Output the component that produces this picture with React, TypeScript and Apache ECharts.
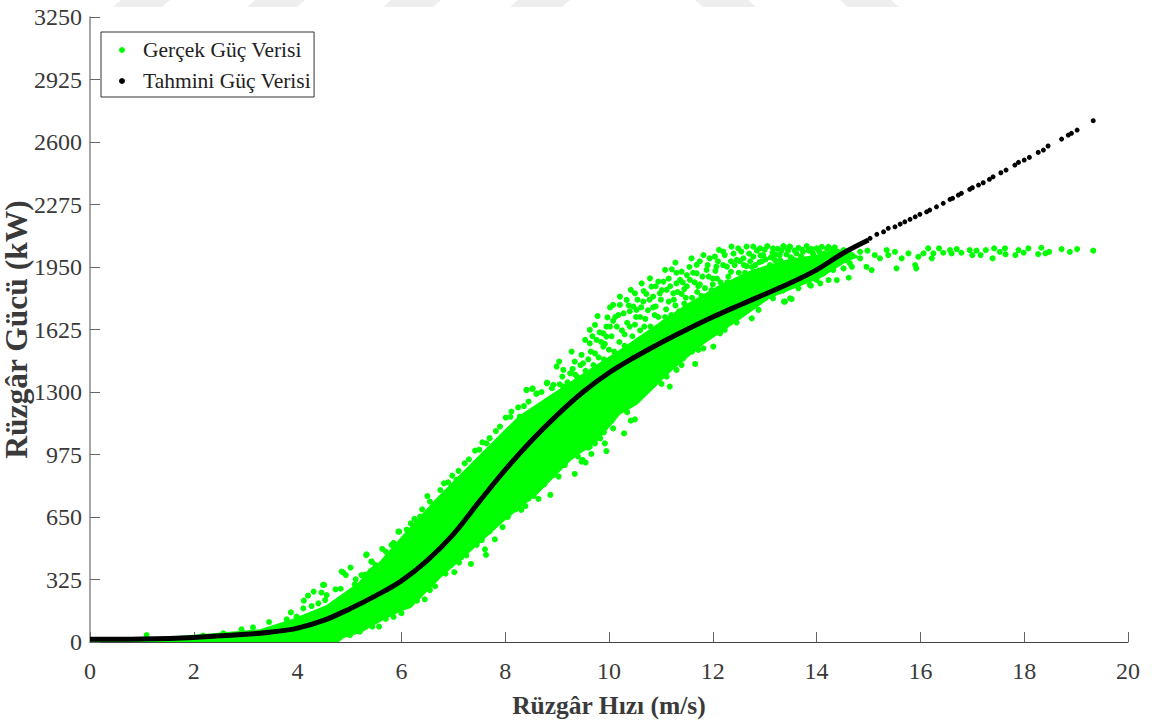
import React, { useEffect, useRef } from "react";
import * as echarts from "echarts";

const realName = "Gerçek Güç Verisi";
const predName = "Tahmini Güç Verisi";
const xTitle = "Rüzgâr Hızı (m/s)";
const yTitle = "Rüzgâr Gücü (kW)";

const cloudUpper: number[][] = [
  [0, 14], [1.5, 20], [2.31, 36], [3.28, 59], [3.92, 114], [4.56, 184], [5.2, 306], [5.39, 374], [5.59, 410],
  [6.04, 548], [6.68, 738], [7.32, 912], [7.96, 1085], [8.29, 1172], [8.92, 1285], [9.57, 1400], [10.2, 1510],
  [10.85, 1630], [11.5, 1750], [12.14, 1850], [12.78, 1930], [13.42, 1980], [14.07, 2010], [14.58, 2038], [14.76, 2004],
];
const cloudLower: number[][] = [
  [0, 0], [4.75, 0], [4.88, 28], [5.2, 54], [5.59, 114], [5.97, 166], [6.17, 184], [6.74, 340], [7.32, 478],
  [7.96, 634], [8.6, 774], [9.25, 950], [9.76, 1050], [10.2, 1190], [10.53, 1241], [11.18, 1414], [11.8, 1553],
  [12.46, 1674], [13.1, 1796], [13.74, 1865], [14.07, 1900], [14.58, 1986], [14.76, 2004],
];

// Individually visible measured points
const realLowFringe: number[][] = [
  [1.09, 36], [2.18, 33], [2.57, 45], [2.92, 66], [3.14, 76], [3.45, 104], [3.79, 118], [3.87, 154], [4.12, 215],
  [4.2, 241], [4.31, 262], [4.46, 257], [4.51, 297], [4.56, 244], [4.53, 218], [4.4, 201], [4.27, 187], [4.11, 175],
  [3.98, 132], [4.73, 274], [4.83, 277], [4.88, 361], [4.93, 348], [5.02, 387], [5.12, 326], [5.23, 348], [5.32, 452],
  [5.42, 418], [5.63, 484], [5.81, 505], [5.94, 574], [5.44, 80], [5.57, 80], [5.2, 54], [5.01, 36], [4.49, 297],
  [4.85, 366], [5.33, 456], [5.43, 418],
];
const realMidUpper: number[][] = [
  [5.96, 574], [6.18, 617], [6.36, 652], [6.5, 759], [6.65, 695], [6.82, 825], [6.98, 865], [7.06, 843], [7.22, 929],
  [7.42, 995], [7.56, 1038], [7.64, 1033], [7.82, 1097], [8.01, 1167], [8.12, 1198], [8.28, 1172], [8.36, 1227],
  [8.41, 1310], [8.52, 1316], [8.6, 1290], [8.81, 1349], [8.41, 1311], [8.53, 1319], [8.61, 1293], [8.8, 1345],
  [8.93, 1337], [8.99, 1432], [9.04, 1458], [9.12, 1415], [9.25, 1397], [9.28, 1510], [9.34, 1458], [9.47, 1493],
  [9.54, 1571], [9.63, 1623], [9.73, 1649], [9.78, 1695], [9.89, 1605], [9.97, 1688], [10.02, 1740], [10.08, 1753],
  [10.21, 1796], [10.21, 1753], [10.34, 1779], [10.42, 1831], [10.5, 1813], [10.63, 1865], [10.67, 1825], [10.79, 1891],
  [10.82, 1848], [10.95, 1874], [11.05, 1874], [11.08, 1935], [11.21, 1938], [11.28, 1973], [11.3, 1865], [11.4, 1926],
  [11.5, 1908], [11.59, 1995], [11.69, 1961], [11.82, 2012], [11.94, 1995], [12.04, 2004], [12.12, 2039], [12.23, 2012],
  [12.36, 2056], [12.49, 2047], [12.65, 2056], [12.78, 2056], [12.91, 2047], [13.05, 2059], [13.16, 2047], [13.36, 2059],
  [13.48, 2056], [13.81, 2059], [14.0, 2047],
];
const realInnerUpper: number[][] = [
  [9.12, 1328], [9.38, 1380], [9.5, 1449], [9.63, 1553], [9.73, 1501], [9.76, 1571], [9.89, 1536], [9.95, 1588],
  [10.02, 1640], [10.15, 1640], [10.28, 1709], [10.47, 1744], [10.53, 1727], [10.66, 1770], [10.85, 1796], [10.98, 1813],
  [11.11, 1831], [11.24, 1813], [11.37, 1883], [11.56, 1883], [11.69, 1917], [11.88, 1935], [12.07, 1952], [12.27, 1952],
  [12.46, 1987], [12.59, 1995], [12.78, 2004], [12.97, 2012], [13.16, 2004], [13.29, 2012], [13.61, 2021], [13.74, 2030],
  [13.93, 2021], [10.4, 1640], [10.6, 1690], [10.75, 1725], [10.9, 1745], [11.15, 1770], [11.45, 1835], [11.75, 1860],
  [12.0, 1890], [12.35, 1925], [12.65, 1955], [12.9, 1975], [13.2, 1985], [13.5, 2000], [13.85, 2035], [14.2, 2045],
];
const realUpperBand: number[][] = [
  [9.05, 1340], [9.1, 1380], [9.2, 1350], [9.3, 1420], [9.35, 1390], [9.45, 1440], [9.55, 1410], [9.6, 1470], [9.65, 1510],
  [9.7, 1440], [9.8, 1480], [9.85, 1560], [9.9, 1470], [9.95, 1640], [10.0, 1520], [10.05, 1590], [10.1, 1510], [10.12, 1690],
  [10.2, 1560], [10.25, 1620], [10.3, 1540], [10.35, 1660], [10.4, 1720], [10.45, 1590], [10.5, 1650], [10.55, 1780],
  [10.6, 1620], [10.7, 1680], [10.72, 1810], [10.8, 1640], [10.85, 1740], [10.9, 1850], [10.95, 1690], [11.0, 1780],
  [11.05, 1660], [11.1, 1730], [11.15, 1890], [11.2, 1700], [11.25, 1780], [11.3, 1920], [11.35, 1720], [11.4, 1810],
  [11.45, 1760], [11.5, 1850], [11.55, 1950], [11.6, 1790], [11.65, 1870], [11.7, 1820], [11.75, 1980], [11.8, 1900],
  [11.85, 1840], [11.9, 1960], [12.0, 1860], [12.05, 1930], [12.1, 1980], [12.15, 1870], [12.2, 2030], [12.3, 1900],
  [12.35, 1980], [12.4, 2020], [12.5, 1920], [12.55, 2030], [12.6, 1960], [12.7, 2020], [12.75, 1950], [12.85, 2035],
  [12.95, 1980], [13.0, 2040], [13.1, 1960], [13.15, 2025], [13.25, 2045], [13.3, 1985], [13.45, 2035], [13.55, 1990],
  [13.65, 2050], [13.7, 2005], [13.9, 2045], [14.05, 2030], [14.15, 2020], [14.3, 2040], [14.4, 2030],
  [9.68, 1590], [9.82, 1610], [9.92, 1550], [10.08, 1670], [10.18, 1700], [10.3, 1600], [10.38, 1750], [10.52, 1690],
  [10.62, 1740], [10.68, 1640], [10.78, 1780], [10.88, 1700], [11.02, 1830], [11.08, 1690], [11.18, 1850], [11.28, 1750],
  [11.32, 1820], [11.42, 1870], [11.48, 1790], [11.62, 1920], [11.72, 1850], [11.78, 1800], [11.92, 1900], [11.98, 1830],
  [12.08, 1890], [12.2, 1960], [12.28, 1870], [12.42, 1960], [12.52, 1980], [12.62, 1920], [12.72, 1980], [12.82, 1960],
  [12.92, 2010], [13.02, 1990], [13.12, 2000], [13.22, 2015], [13.32, 2035], [13.42, 2015], [13.58, 2035], [13.72, 2040],
];
const realUpperEdge: number[][] = [
  [5.1, 300], [5.3, 350], [5.5, 400], [5.7, 470], [5.85, 515], [6.1, 585], [6.25, 640], [6.4, 690], [6.55, 730], [6.75, 790],
  [6.9, 830], [7.1, 890], [7.3, 950], [7.5, 1000], [7.7, 1060], [7.9, 1120], [8.1, 1170], [8.25, 1220], [8.45, 1250],
  [8.7, 1300], [8.9, 1320],
];
const realLowerEdge: number[][] = [
  [6.45, 222], [7.02, 363], [7.11, 413], [7.34, 406], [7.61, 482], [7.63, 453], [7.8, 534], [7.95, 597], [8.31, 687],
  [8.39, 707], [8.64, 744], [8.87, 765], [9.03, 860], [9.34, 874], [9.47, 938], [9.49, 947], [9.55, 933], [9.63, 1016],
  [9.66, 978], [9.73, 1033], [9.83, 1059], [9.92, 1033], [9.95, 993], [10.08, 1111], [10.21, 1207], [10.29, 1085],
  [10.42, 1151], [10.5, 1158], [10.6, 1285], [10.85, 1337], [11.01, 1342], [11.11, 1380], [11.17, 1328], [11.3, 1415],
  [11.43, 1475], [11.66, 1446], [11.72, 1519], [11.82, 1527], [12.01, 1536], [12.14, 1605], [12.23, 1623], [12.46, 1661],
  [12.75, 1683], [12.88, 1727], [13.16, 1787], [13.39, 1770], [13.49, 1787], [13.65, 1839], [13.87, 1857], [14.0, 1883],
  [5.5, 110], [5.7, 120], [5.85, 130], [6.0, 150], [6.1, 190], [6.3, 215], [6.55, 270], [6.65, 290], [6.85, 355], [6.95, 400],
  [7.15, 440], [7.25, 450], [7.45, 505], [7.55, 530], [7.7, 575], [7.85, 620], [8.05, 650], [8.2, 690], [8.45, 745],
  [8.55, 760], [8.75, 820], [8.95, 870], [9.15, 920], [9.4, 965], [9.6, 1010], [9.9, 1090], [10.05, 1150], [10.35, 1195],
  [10.65, 1300], [10.9, 1360], [11.4, 1440], [11.6, 1510],
];
const realTail: number[][] = [
  [13.37, 2055], [13.49, 2055], [14.1, 2055], [14.23, 2055], [14.35, 2052], [14.52, 2038], [14.64, 1969], [14.62, 1894],
  [14.39, 1882], [14.23, 1882], [14.07, 1865], [13.89, 1853], [13.52, 1783], [13.37, 1770], [13.35, 1827], [13.94, 2012],
  [14.26, 2021], [14.45, 2003], [14.58, 1986], [14.68, 2012], [14.52, 1943], [14.32, 1934], [14.13, 1917], [14.68, 1951],
  [14.84, 2029], [14.98, 2035], [14.84, 1995], [14.96, 1951], [15.06, 1934], [15.12, 2012], [15.22, 1995], [15.35, 2038],
  [15.38, 2012], [15.51, 2029], [15.54, 1943], [15.64, 1995], [15.77, 2021], [15.9, 1960], [15.92, 1943], [15.96, 2003],
  [16.06, 2021], [16.15, 2047], [16.22, 1995], [16.25, 2021], [16.36, 2047], [16.44, 2024], [16.57, 2038], [16.6, 2021],
  [16.7, 2043], [16.79, 2024], [16.95, 2038], [17.0, 2012], [17.08, 2035], [17.16, 2012], [17.26, 2038], [17.39, 1995],
  [17.42, 2047], [17.53, 2029], [17.63, 2047], [17.64, 2016], [17.83, 2012], [17.89, 2038], [17.99, 2024], [18.08, 2047],
  [18.27, 2017], [18.33, 2050], [18.41, 2021], [18.48, 2029], [18.72, 2043], [18.88, 2029], [19.02, 2043], [19.33, 2035],
];

// Prediction: the solid run of overlapping points, then the separate points of the tail
const predCurve: number[][] = [
  [0, 14], [1, 16], [2, 24], [3, 40], [3.5, 52], [4, 72], [4.5, 112], [5, 172], [5.5, 240], [6, 318], [6.5, 425],
  [7, 560], [7.5, 730], [8, 895], [8.5, 1045], [9, 1180], [9.5, 1300], [10, 1400], [10.5, 1482], [11, 1556], [11.5, 1625],
  [12, 1690], [12.5, 1750], [13, 1808], [13.5, 1868], [14, 1935], [14.5, 2020], [15, 2090],
];
const predTail: number[][] = [
  [15.03, 2099], [15.16, 2120], [15.29, 2133], [15.38, 2151], [15.51, 2159], [15.61, 2173], [15.7, 2185], [15.8, 2198],
  [15.9, 2211], [15.99, 2224], [16.12, 2237], [16.18, 2246], [16.31, 2263], [16.44, 2281], [16.57, 2302], [16.62, 2307],
  [16.73, 2324], [16.79, 2333], [16.95, 2354], [17.0, 2362], [17.12, 2376], [17.21, 2388], [17.33, 2406], [17.4, 2419],
  [17.55, 2440], [17.65, 2454], [17.82, 2480], [17.89, 2494], [18.0, 2506], [18.1, 2520], [18.27, 2546], [18.37, 2558],
  [18.46, 2579], [18.72, 2615], [18.85, 2636], [18.91, 2645], [19.02, 2662], [19.33, 2711],
];

const watermarkSpans: number[][] = [[113, 170], [247, 305], [383, 441], [510, 570], [695, 756], [840, 899]];

const FONT = '"Liberation Serif", serif';
const TEXT = "#3a3a3a";

export default function App() {
  const ref = useRef<HTMLDivElement>(null);
  useEffect(() => {
    document.body.style.margin = "0";
    const chart = echarts.init(ref.current!, undefined, { renderer: "svg" });
    const outline = [...cloudUpper, ...[...cloudLower].reverse()];
    const realPoints = [...realLowFringe, ...realMidUpper, ...realInnerUpper, ...realUpperBand, ...realUpperEdge, ...realLowerEdge, ...realTail];
    chart.setOption({
      animation: false,
      backgroundColor: "#fff",
      graphic: watermarkSpans.map(([a, b], i) => ({
        type: "polygon",
        silent: true,
        z: 0,
        shape: {
          points: i < 4
            ? [[a + 8, 0], [b, 0], [b - 8, 7], [a, 7]]
            : [[a, 0], [b - 8, 0], [b, 7], [a + 8, 7]],
        },
        style: { fill: "#eeeeee" },
      })),
      grid: { left: 90, right: 27, top: 17, height: 625, containLabel: false, outerBoundsMode: "none" },
      legend: {
        left: 101,
        top: 32,
        orient: "vertical",
        data: [realName, predName],
        icon: "circle",
        itemWidth: 32,
        itemHeight: 6,
        itemGap: 9,
        padding: [7, 3, 5, 18],
        borderColor: "#333",
        borderWidth: 1,
        backgroundColor: "#fff",
        selectedMode: false,
        textStyle: { fontFamily: FONT, fontSize: 21.5, color: "#222" },
      },
      xAxis: {
        type: "value",
        min: 0,
        max: 20,
        interval: 2,
        name: xTitle,
        nameLocation: "middle",
        nameGap: 50,
        nameMoveOverlap: false,
        nameTextStyle: { fontFamily: FONT, fontSize: 25.5, fontWeight: "bold", color: TEXT },
        splitLine: { show: false },
        axisLine: { lineStyle: { color: "#444", width: 1 } },
        axisTick: { inside: true, length: 10, lineStyle: { color: "#666" } },
        axisLabel: { fontFamily: FONT, fontSize: 24, color: TEXT, margin: 17, formatter: (v: number) => String(v) },
      },
      yAxis: {
        type: "value",
        min: 0,
        max: 3250,
        interval: 325,
        name: yTitle,
        nameLocation: "middle",
        nameGap: 58,
        nameMoveOverlap: false,
        nameTextStyle: { fontFamily: FONT, fontSize: 31.5, fontWeight: "bold", color: TEXT },
        splitLine: { show: false },
        axisLine: { lineStyle: { color: "#888", width: 1.5 } },
        axisTick: { inside: true, length: 10, lineStyle: { color: "#666" } },
        axisLabel: { fontFamily: FONT, fontSize: 24, color: TEXT, margin: 8, formatter: (v: number) => String(v) },
      },
      series: [
        {
          type: "scatter",
          name: realName,
          data: realPoints,
          symbol: "circle",
          symbolSize: 6,
          itemStyle: { color: "#00ff00", opacity: 1 },
          z: 3,
          silent: true,
        },
        {
          type: "custom",
          name: "Yoğun bölge",
          coordinateSystem: "cartesian2d",
          data: [[0, 0]],
          clip: true,
          silent: true,
          z: 2,
          renderItem: (_p: unknown, api: any) => ({
            type: "polygon",
            shape: { points: outline.map((d) => api.coord(d)) },
            style: { fill: "#00ff00", stroke: "#00ff00", lineWidth: 3 },
          }),
        },
        {
          type: "scatter",
          name: predName,
          data: predTail,
          symbol: "circle",
          symbolSize: 5,
          itemStyle: { color: "#000", opacity: 1 },
          z: 5,
          silent: true,
        },
        {
          type: "line",
          name: "Tahmin eğrisi",
          data: predCurve,
          smooth: 0.4,
          showSymbol: false,
          lineStyle: { color: "#000", width: 5 },
          itemStyle: { color: "#000" },
          z: 5,
          silent: true,
        },
      ],
    });
    return () => chart.dispose();
  }, []);
  return <div ref={ref} style={{ position: "fixed", left: 0, top: 0, width: 1155, height: 727 }} />;
}
